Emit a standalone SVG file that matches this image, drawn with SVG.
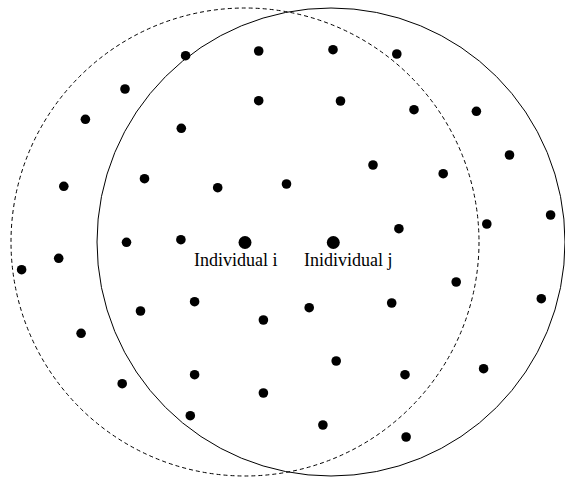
<svg xmlns="http://www.w3.org/2000/svg" width="565" height="479" viewBox="0 0 565 479">
<style>
.ring{fill:none;stroke:#000;stroke-width:1}
.dash{stroke-dasharray:4,3}
.dot{fill:#000}
.lbl{font-family:"Liberation Serif","Times New Roman",serif;font-size:18px;fill:#000}
</style>
<rect width="565" height="479" fill="#fff"/>
<g id="connectors">
<circle id="range-i" class="ring dash" cx="245" cy="242" r="234"/>
<circle id="range-j" class="ring" cx="331" cy="242" r="234"/>
</g>
<g id="dots" class="dot">
<circle cx="185.6" cy="55.7" r="4.8"/>
<circle cx="258.7" cy="51" r="4.8"/>
<circle cx="333" cy="49.7" r="4.8"/>
<circle cx="396.8" cy="54" r="4.8"/>
<circle cx="125" cy="89" r="4.8"/>
<circle cx="258.7" cy="100.7" r="4.8"/>
<circle cx="340.5" cy="101" r="4.8"/>
<circle cx="414" cy="109.7" r="4.8"/>
<circle cx="476.4" cy="111.3" r="4.8"/>
<circle cx="85.4" cy="119.3" r="4.8"/>
<circle cx="181.3" cy="128.3" r="4.8"/>
<circle cx="509.5" cy="155" r="4.8"/>
<circle cx="373" cy="165" r="4.8"/>
<circle cx="443.2" cy="173.7" r="4.8"/>
<circle cx="144.5" cy="178.7" r="4.8"/>
<circle cx="217.7" cy="187.7" r="4.8"/>
<circle cx="286.5" cy="184" r="4.8"/>
<circle cx="63.8" cy="186.3" r="4.8"/>
<circle cx="550.6" cy="215" r="4.8"/>
<circle cx="486.8" cy="224" r="4.8"/>
<circle cx="398.9" cy="228.7" r="4.8"/>
<circle cx="126.5" cy="242.3" r="4.8"/>
<circle cx="180.9" cy="239.7" r="4.8"/>
<circle cx="58.7" cy="258.3" r="4.8"/>
<circle cx="21.6" cy="269.7" r="4.8"/>
<circle cx="456.2" cy="282" r="4.8"/>
<circle cx="541.3" cy="298.7" r="4.8"/>
<circle cx="194.6" cy="301.7" r="4.8"/>
<circle cx="140.5" cy="311" r="4.8"/>
<circle cx="309.2" cy="307.7" r="4.8"/>
<circle cx="391.7" cy="303" r="4.8"/>
<circle cx="263.4" cy="320" r="4.8"/>
<circle cx="81.1" cy="333.3" r="4.8"/>
<circle cx="336.2" cy="361" r="4.8"/>
<circle cx="194.6" cy="374.7" r="4.8"/>
<circle cx="405" cy="374.7" r="4.8"/>
<circle cx="483.6" cy="368.7" r="4.8"/>
<circle cx="122.2" cy="383.7" r="4.8"/>
<circle cx="263.4" cy="393" r="4.8"/>
<circle cx="190.3" cy="415.7" r="4.8"/>
<circle cx="322.9" cy="425" r="4.8"/>
<circle cx="406.1" cy="437" r="4.8"/>
</g>
<g id="individual-i">
<circle class="dot" cx="245" cy="242.5" r="6.5"/>
<text class="lbl" x="194" y="266">Individual i</text>
</g>
<g id="individual-j">
<circle class="dot" cx="333.3" cy="242.5" r="6.5"/>
<text class="lbl" x="304" y="266">Inidividual j</text>
</g>
</svg>
